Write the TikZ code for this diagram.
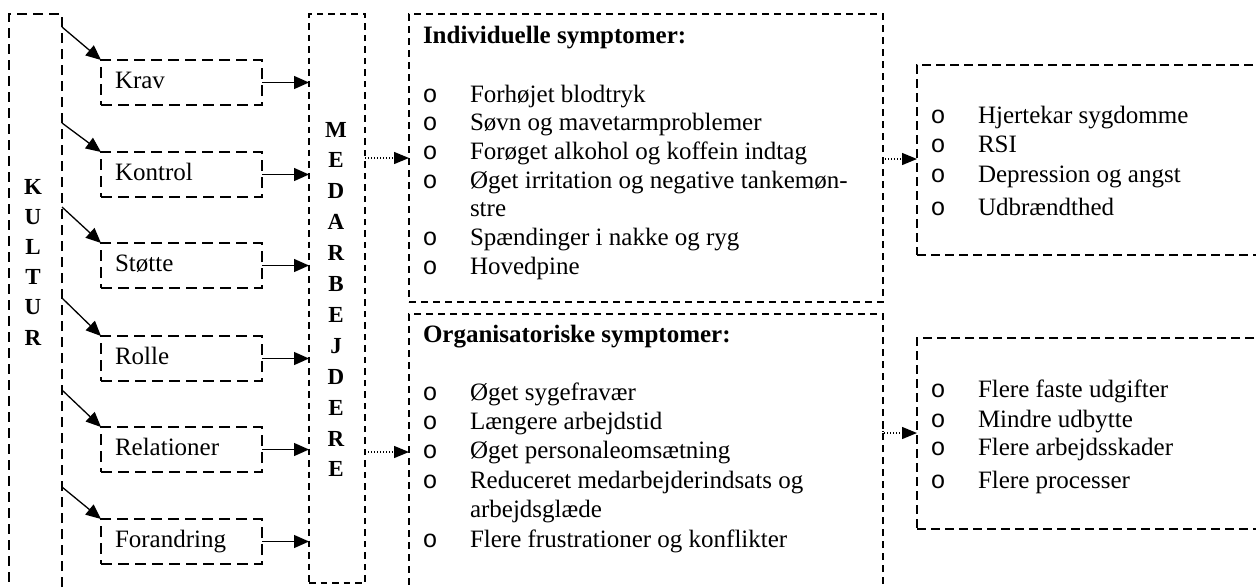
\documentclass[tikz,border=0pt]{standalone}
\usepackage{fontspec}
\setmainfont{Liberation Serif}
\setmonofont{Liberation Mono}
\usetikzlibrary{arrows.meta}
\begin{document}
\begin{tikzpicture}[x=1pt,y=-1pt,
  every node/.style={inner sep=0pt, outer sep=0pt},
  txt/.style={font=\fontsize{25}{28}\selectfont, anchor=base west},
  hd/.style={font=\bfseries\fontsize{25}{28}\selectfont, anchor=base west},
  bul/.style={font=\fontsize{25}{28}\selectfont, anchor=base},
  let/.style={font=\bfseries\fontsize{23}{28}\selectfont, anchor=base},
  kbox/.style={draw, line width=1.5pt, dash pattern=on 10pt off 6pt, anchor=north west},
  ibox/.style={draw, line width=1.5pt, dash pattern=on 11pt off 6pt, anchor=north west, minimum width=161pt, minimum height=45pt},
  mbox/.style={draw, line width=1.4pt, dash pattern=on 6.5pt off 5pt, anchor=north west},
  sbox/.style={draw, line width=1.4pt, dash pattern=on 7pt off 5pt, anchor=north west},
  rbox/.style={draw, line width=1.4pt, dash pattern=on 9pt off 5pt, anchor=north west},
  arr/.style={line width=1.3pt, -{Triangle[length=15pt,width=13pt]}},
  dotarr/.style={line width=1.3pt, dash pattern=on 1.3pt off 1.7pt, -{Triangle[length=15pt,width=12pt]}}
]
\useasboundingbox (0,0) rectangle (1256,587);
\clip (0,0) rectangle (1256,587);

% KULTUR box
\node[kbox, minimum width=53pt, minimum height=600pt] (kultur) at (9,14) {};
\foreach \l [count=\i from 0] in {K,U,L,T,U,R}
  \node[let] (k\i) at (33,194+30.2*\i) {\l};

% MEDARBEJDERE box
\node[mbox, minimum width=56pt, minimum height=569pt] (med) at (309,14) {};
\foreach \l [count=\i from 0] in {M,E,D,A,R,B,E,J,D,E,R,E}
  \node[let] (m\i) at (336,137+30.9*\i) {\l};

% inner boxes
\node[ibox] (krav) at (101,60) {};
\node[ibox] (kontrol) at (101,152) {};
\node[ibox] (stotte) at (101,243) {};
\node[ibox] (rolle) at (101,336) {};
\node[ibox] (relationer) at (101,427) {};
\node[ibox] (forandring) at (101,519) {};
\node[txt] (tkrav) at (115,88) {Krav};
\node[txt] (tkontrol) at (115,180) {Kontrol};
\node[txt] (tstotte) at (115,271) {Støtte};
\node[txt] (trolle) at (115,364) {Rolle};
\node[txt] (trelationer) at (115,455) {Relationer};
\node[txt] (tforandring) at (115,547) {Forandring};

% diagonal arrows from KULTUR
\coordinate (c1) at (62,27);
\coordinate (c2) at (62,123);
\coordinate (c3) at (62,207);
\coordinate (c4) at (62,298);
\coordinate (c5) at (62,390);
\coordinate (c6) at (62,487);
\draw[arr] (c1) -- (krav.north west);
\draw[arr] (c2) -- (kontrol.north west);
\draw[arr] (c3) -- (stotte.north west);
\draw[arr] (c4) -- (rolle.north west);
\draw[arr] (c5) -- (relationer.north west);
\draw[arr] (c6) -- (forandring.north west);

% horizontal arrows to MEDARBEJDERE
\foreach \b in {krav,kontrol,stotte,rolle,relationer,forandring}
  \draw[arr] (\b.east) -- (\b.east -| med.west);

% symptom boxes
\node[sbox, minimum width=474pt, minimum height=288pt] (ind) at (409,14) {};
\node[sbox, minimum width=474pt, minimum height=300pt] (org) at (409,314) {};

\node[hd] (hind) at (423,43) {Individuelle symptomer:};
\node[hd] (horg) at (423,342) {Organisatoriske symptomer:};

\foreach \t/\y [count=\i] in {Forhøjet blodtryk/102, Søvn og mavetarmproblemer/130.7, Forøget alkohol og koffein indtag/159.4, Øget irritation og negative tankemøn-/188, Spændinger i nakke og ryg/245.5, Hovedpine/274}{
  \node[bul] (ib\i) at (430,\y) {\texttt{o}};
  \node[txt] (it\i) at (470,\y) {\t};
}
\node[txt] (it4b) at (470,216.8) {stre};

\foreach \t/\y [count=\i] in {Øget sygefravær/400, Længere arbejdstid/429, Øget personaleomsætning/458, Reduceret medarbejderindsats og/488, Flere frustrationer og konflikter/547}{
  \node[bul] (ob\i) at (430,\y) {\texttt{o}};
  \node[txt] (ot\i) at (470,\y) {\t};
}
\node[txt] (ot4b) at (470,517) {arbejdsglæde};

% right boxes
\node[rbox, minimum width=360pt, minimum height=190pt] (r1) at (917,65) {};
\node[rbox, minimum width=360pt, minimum height=191pt] (r2) at (917,338) {};

\foreach \t/\y [count=\i] in {Hjertekar sygdomme/123, RSI/152, Depression og angst/182, Udbrændthed/215}{
  \node[bul] (rb\i) at (938,\y) {\texttt{o}};
  \node[txt] (rt\i) at (978,\y) {\t};
}
\foreach \t/\y [count=\i] in {Flere faste udgifter/397, Mindre udbytte/427, Flere arbejdsskader/455, Flere processer/488}{
  \node[bul] (sb\i) at (938,\y) {\texttt{o}};
  \node[txt] (st\i) at (978,\y) {\t};
}

% dotted arrows
\draw[dotarr] (med.east |- 0,158) -- (ind.west |- 0,158);
\draw[dotarr] (med.east |- 0,452) -- (org.west |- 0,452);
\draw[dotarr] (ind.east |- 0,163) |- (r1.west |- 0,159);
\draw[dotarr] (org.east |- 0,425) |- (r2.west |- 0,433);
\end{tikzpicture}
\end{document}
